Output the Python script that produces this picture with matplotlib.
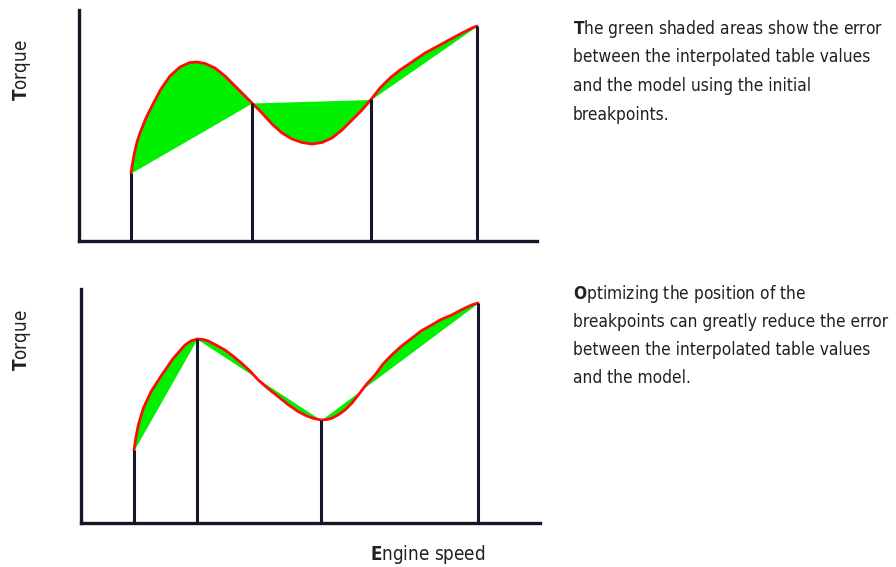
import numpy as np
import matplotlib
matplotlib.use("Agg")
import matplotlib.pyplot as plt

plt.rcParams['font.family'] = ['DejaVu Sans']
plt.rcParams['font.stretch'] = 'condensed'
plt.rcParams['mathtext.fontset'] = 'custom'
plt.rcParams['mathtext.rm'] = 'DejaVu Sans:stretch=condensed'
plt.rcParams['mathtext.bf'] = 'DejaVu Sans:weight=bold:stretch=condensed'

# ---- data (engine speed vs torque, arbitrary units) ----
speed_top = [52, 55, 58, 61, 67, 74, 82, 91, 101, 111, 118, 126, 136, 146, 156, 166,
             173, 183, 193, 203, 213, 223, 233, 243, 253, 263, 273, 283, 292, 301,
             311, 321, 333, 346, 359, 371, 383, 393, 398]
torque_top = [68, 86, 99, 108, 123, 137, 152, 165, 174, 178.5, 179, 177.5, 173, 165,
              155, 145, 138, 128, 117, 108, 102, 98.5, 97, 98.5, 103, 111, 121, 131,
              141.5, 153, 163, 171, 179, 188, 195, 201.5, 208, 213, 215]
breakpoints_top = [52, 173, 292, 398]

speed_bot = [53, 55, 57.3, 62.3, 70, 80.7, 92.3, 104, 110, 116, 122, 127.3, 135, 144,
             152, 160.7, 169, 177.3, 187, 197.3, 207, 217.3, 227, 233, 240, 246,
             250.7, 257, 264, 271, 277.3, 285.7, 294, 302, 310.7, 320, 330.7, 340,
             350.7, 360, 370.7, 380, 390.7, 397]
torque_bot = [73, 86, 98, 114.7, 131.3, 148, 164.7, 178, 182, 184, 183.5, 182, 178,
              173, 167, 159.7, 152, 143, 134.5, 126.3, 118.5, 111.3, 106.5, 104.5,
              103, 103.5, 104.7, 108, 113, 120, 128, 139, 148, 159, 168, 176.5,
              184.7, 192, 198, 203.5, 208, 213, 218, 220]
breakpoints_bot = [53, 116, 240, 397]

ylabel = "Torque"
xlabel = "Engine speed"
text_top = ["The green shaded areas show the error",
            "between the interpolated table values",
            "and the model using the initial",
            "breakpoints."]
text_bot = ["Optimizing the position of the",
            "breakpoints can greatly reduce the error",
            "between the interpolated table values",
            "and the model."]

AXC = '#161628'
RED = '#ff0a0a'
GREEN = '#00f000'
TXT = '#202020'

W, H = 896, 567
fig = plt.figure(figsize=(W / 100, H / 100), dpi=100)


def px_axes(l, t, r, b):
    return fig.add_axes([l / W, 1 - b / H, (r - l) / W, (b - t) / H])


def draw_panel(ax, x, y, bps, xmax, ymax):
    x = np.asarray(x, float)
    y = np.asarray(y, float)
    bps = np.asarray(bps, float)
    bp_vals = np.interp(bps, x, y)
    chord = np.interp(x, bps, bp_vals)
    ax.fill_between(x, y, chord, color=GREEN, lw=0, zorder=1)
    ax.plot(x, y, color=RED, lw=2.0, solid_capstyle='round',
            solid_joinstyle='round', zorder=2)
    ax.vlines(bps, 0, bp_vals, color=AXC, lw=2.2, zorder=3, clip_on=False)
    ax.set_xlim(0, xmax)
    ax.set_ylim(0, ymax)
    for s in ['top', 'right']:
        ax.spines[s].set_visible(False)
    for s in ['left', 'bottom']:
        ax.spines[s].set_linewidth(2.4)
        ax.spines[s].set_color(AXC)
    ax.set_xticks([])
    ax.set_yticks([])
    ax.patch.set_alpha(0)


ax1 = px_axes(79, 10, 537, 241)
draw_panel(ax1, speed_top, torque_top, breakpoints_top, 458, 231)
ax2 = px_axes(81, 289, 540, 523)
draw_panel(ax2, speed_bot, torque_bot, breakpoints_bot, 459, 234)


def bold_first(s):
    return r"$\mathbf{" + s[0] + "}$" + s[1:]


LBL = 13.5
fig.text(22 / W, 1 - 70 / H, bold_first(ylabel), rotation=90, ha='center', va='center',
         fontsize=LBL, color=TXT)
fig.text(22 / W, 1 - 340 / H, bold_first(ylabel), rotation=90, ha='center', va='center',
         fontsize=LBL, color=TXT)
fig.text(428 / W, 1 - 554 / H, bold_first(xlabel), ha='center', va='center',
         fontsize=LBL, color=TXT)

PAR = 12.4
for i, line in enumerate(text_top):
    s = bold_first(line) if i == 0 else line
    fig.text(573 / W, 1 - (29 + 28.5 * i) / H, s, ha='left', va='center',
             fontsize=PAR, color=TXT)
for i, line in enumerate(text_bot):
    s = bold_first(line) if i == 0 else line
    fig.text(573 / W, 1 - (294 + 28 * i) / H, s, ha='left', va='center',
             fontsize=PAR, color=TXT)

fig.savefig("out.png", dpi=100)
